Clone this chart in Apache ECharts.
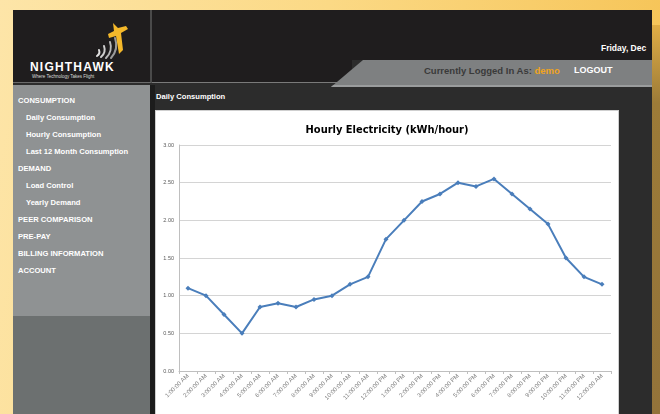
<!DOCTYPE html>
<html>
<head>
<meta charset="utf-8">
<script src="https://cdn.jsdelivr.net/npm/echarts@6/dist/echarts.min.js"></script>
<style>
  html, body { margin: 0; padding: 0; }
  body {
    width: 660px; height: 414px; overflow: hidden; position: relative;
    background: linear-gradient(100deg, #fde5a8 0%, #fbd985 45%, #f5c150 100%);
    font-family: "Liberation Sans", "DejaVu Sans", sans-serif;
  }
  .abs { position: absolute; }
  #rightStrip { left: 652px; top: 25px; width: 8px; height: 389px;
    background: linear-gradient(180deg, #e0ad45 0%, #9c7b38 20%, #93733a 100%); }
  #frame { left: 13px; top: 10px; width: 639px; height: 404px; background: #2c2c2c; overflow: hidden; }
  #header { left: 0; top: 0; width: 639px; height: 50px; background: #1f1d1e; }
  #logoBox { left: 0; top: 0; width: 137px; height: 72px; background: #1f1d1e; border-right: 2px solid #4a4a4a; border-bottom: 1px solid #6a6a6a; }
  #headLeft { left: 139px; top: 50px; width: 200px; height: 22px; background: #1f1d1e; border-bottom: 1px solid #7a7a7a; }
  #tab { left: 318px; top: 50px; width: 321px; height: 25px; background: #7e8081;
    clip-path: polygon(32px 0, 100% 0, 100% 100%, 0 100%); border-bottom: 2px solid #9a9c9d; }
  #sideTop { left: 0; top: 75px; width: 137px; height: 231px; background: #8f9293; }
  #sideBot { left: 0; top: 306px; width: 137px; height: 98px; background: #6c7070; }
  #sep { left: 137px; top: 75px; width: 5px; height: 329px; background: #1c1c1c; }
  #panel { left: 142px; top: 100px; width: 462px; height: 304px; background: #fff; border: 1px solid #cfcfcf; }
  .nav { color: #fff; font-weight: bold; font-size: 7.6px; white-space: nowrap; }
  .sub { left: 13px; }
  .top { left: 5px; }
</style>
</head>
<body>
<div id="rightStrip" class="abs"></div>
<div id="frame" class="abs">
  <div id="header" class="abs"></div>
  <div id="logoBox" class="abs">
    <svg width="137" height="72" style="position:absolute;left:0;top:0">
      <g fill="none" stroke-linecap="round">
        <path d="M84 46 A5 5 0 0 0 86 40" stroke="#e0e0e0" stroke-width="2"/>
        <path d="M88 47 A10 10 0 0 0 91 36" stroke="#cfcfcf" stroke-width="2"/>
        <path d="M93 48 A15 15 0 0 0 97 32" stroke="#b8b8b8" stroke-width="2"/>
        <path d="M98 48 A20 20 0 0 0 102 28" stroke="#9a9a9a" stroke-width="2"/>
      </g>
      <polygon points="100,13 105,18 113,16 115,19 108,23 110,40 106,44 103,26 96,28 95,24 101,21" fill="#f4b82a"/>
    </svg>
    <div class="abs" style="left:17px;top:50px;color:#fff;font-weight:bold;font-size:12px;letter-spacing:1.2px;">NIGHTHAWK</div>
    <div class="abs" style="left:19px;top:64px;color:#ddd;font-size:4.5px;white-space:nowrap;">Where Technology Takes Flight</div>
  </div>
  <div id="headLeft" class="abs"></div>
  <div id="tab" class="abs"></div>
  <div class="abs" style="left:588px;top:33px;color:#fff;font-weight:bold;font-size:8.5px;white-space:nowrap;">Friday, Dec</div>
  <div class="abs" style="left:411px;top:55px;color:#3a3a3a;font-weight:bold;font-size:9.5px;white-space:nowrap;">Currently Logged In As: <span style="color:#f0a41e">demo</span></div>
  <div class="abs" style="left:561px;top:55px;color:#fff;font-weight:bold;font-size:9px;">LOGOUT</div>

  <div id="sideTop" class="abs"></div>
  <div id="sideBot" class="abs"></div>
  <div class="abs nav top" style="top:86px">CONSUMPTION</div>
  <div class="abs nav sub" style="top:103px">Daily Consumption</div>
  <div class="abs nav sub" style="top:120px">Hourly Consumption</div>
  <div class="abs nav sub" style="top:137px">Last 12 Month Consumption</div>
  <div class="abs nav top" style="top:154px">DEMAND</div>
  <div class="abs nav sub" style="top:171px">Load Control</div>
  <div class="abs nav sub" style="top:188px">Yearly Demand</div>
  <div class="abs nav top" style="top:205px">PEER COMPARISON</div>
  <div class="abs nav top" style="top:222px">PRE-PAY</div>
  <div class="abs nav top" style="top:239px">BILLING INFORMATION</div>
  <div class="abs nav top" style="top:256px">ACCOUNT</div>

  <div id="sep" class="abs"></div>
  <div class="abs nav" style="left:143px;top:82px;">Daily Consumption</div>
  <div id="panel" class="abs">
    <div id="main" style="width:462px;height:304px;"></div>
  </div>
</div>

<script>
// hours of the day, as the spreadsheet labels them
var hours = ['1:00:00 AM', '2:00:00 AM', '3:00:00 AM', '4:00:00 AM', '5:00:00 AM', '6:00:00 AM',
  '7:00:00 AM', '8:00:00 AM', '9:00:00 AM', '10:00:00 AM', '11:00:00 AM', '12:00:00 PM',
  '1:00:00 PM', '2:00:00 PM', '3:00:00 PM', '4:00:00 PM', '5:00:00 PM', '6:00:00 PM',
  '7:00:00 PM', '8:00:00 PM', '9:00:00 PM', '10:00:00 PM', '11:00:00 PM', '12:00:00 AM'];

// kWh used in each hour
var kwh = [1.10, 1.00, 0.75, 0.50, 0.85, 0.90, 0.85, 0.95, 1.00, 1.15, 1.25, 1.75,
  2.00, 2.25, 2.35, 2.50, 2.45, 2.55, 2.35, 2.15, 1.95, 1.50, 1.25, 1.15];

var yTicks = [0, 0.5, 1, 1.5, 2, 2.5, 3];

var myChart = echarts.init(document.getElementById('main'));

myChart.setOption({
  animation: false,
  title: {
    text: 'Hourly Electricity (kWh/hour)',
    left: 'center',
    top: 9,
    textStyle: { fontSize: 11, fontWeight: 'bold', color: '#000', fontFamily: 'DejaVu Sans Condensed, Liberation Sans, sans-serif' }
  },
  grid: { left: 23, right: 7, top: 34, bottom: 44 },
  xAxis: {
    type: 'category',
    data: hours,
    boundaryGap: true,
    axisLine: { lineStyle: { color: '#bfbfbf', width: 1 } },
    axisTick: { show: true, length: 3, lineStyle: { color: '#bfbfbf' } },
    axisLabel: { interval: 0, rotate: 45, fontSize: 6, color: '#7f7f7f', margin: 4 }
  },
  yAxis: {
    type: 'value',
    min: yTicks[0],
    max: yTicks[yTicks.length - 1],
    interval: 0.5,
    axisLine: { show: true, lineStyle: { color: '#bfbfbf' } },
    axisTick: { show: false },
    axisLabel: { fontSize: 5.5, color: '#595959', margin: 5, formatter: function (v) { return v.toFixed(2); } },
    splitLine: { lineStyle: { color: '#d4d4d4', width: 1.2 } }
  },
  series: [{
    name: 'kWh',
    type: 'line',
    data: kwh,
    symbol: 'diamond',
    symbolSize: 5,
    lineStyle: { color: '#4a7ebb', width: 2 },
    itemStyle: { color: '#4a7ebb' }
  }]
});
</script>
</body>
</html>
